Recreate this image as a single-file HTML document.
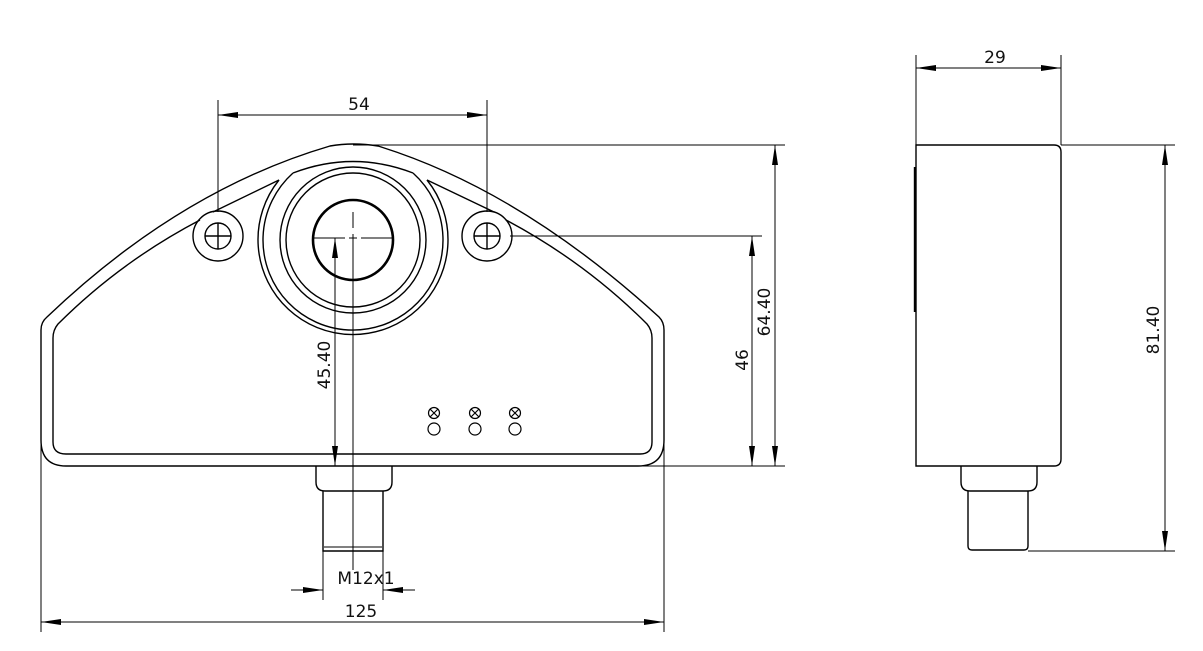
<!DOCTYPE html>
<html><head><meta charset="utf-8"><style>
html,body{margin:0;padding:0;background:#fff;}
svg{display:block;}
text{font-family:"DejaVu Sans","Liberation Sans",sans-serif;font-size:17px;fill:#111;}
</style></head><body>
<svg width="1203" height="651" viewBox="0 0 1203 651" xmlns="http://www.w3.org/2000/svg">
<defs>
<marker id="a" viewBox="0 0 20 8" refX="20" refY="4" markerWidth="20" markerHeight="8" markerUnits="userSpaceOnUse" orient="auto-start-reverse"><path d="M0,1 L20,4 L0,7 z" fill="#000"/></marker>
</defs>
<g fill="none" stroke="#000" stroke-width="1.4">
<path d="M41,440 L41,330 Q41,322 47,317 Q180,190 330,146 Q353,142 378,146 Q520,190 659,317 Q664,322 664,330 L664,440 Q664,466 638,466 L66,466 Q41,466 41,440 Z"/>
<path d="M200,220 Q120,262 58,324 Q53,330 53,338 L53,442 Q53,454 66,454 L640,454 Q652,454 652,442 L652,338 Q652,330 647,324 Q585,262 506,220"/>
<path d="M213,212 L279,180"/>
<path d="M494,212 L427,180"/>
<path d="M293,173 Q353,150 413,173"/>
<path d="M279,180 A95,95 0 1 0 427,180"/>
<path d="M293,173 A90,90 0 1 0 413,173"/>
<circle cx="353" cy="240" r="73"/>
<circle cx="353" cy="240" r="67"/>
<circle cx="353" cy="240" r="40" stroke-width="2.6"/>
<circle cx="218" cy="236" r="25"/>
<circle cx="218" cy="236" r="13"/>
<path d="M205,236H231M218,223V249"/>
<circle cx="487" cy="236" r="25"/>
<circle cx="487" cy="236" r="13"/>
<path d="M474,236H500M487,223V249"/>
<g stroke-width="1.2">
<circle cx="434" cy="413" r="5.5"/><path d="M430,409L438,417M438,409L430,417"/><circle cx="434" cy="429" r="6"/>
<circle cx="475" cy="413" r="5.5"/><path d="M471,409L479,417M479,409L471,417"/><circle cx="475" cy="429" r="6"/>
<circle cx="515" cy="413" r="5.5"/><path d="M511,409L519,417M519,409L511,417"/><circle cx="515" cy="429" r="6"/>
</g>
<path d="M316,466 L316,482 Q316,491 325,491 L383,491 Q392,491 392,482 L392,466"/>
<path d="M323,491 L323,551 L383,551 L383,491"/>
<path d="M324,547 L382,547" stroke-width="1"/>
<path d="M353,212 V228 M353,234 V570" stroke-width="1"/>
<path d="M313,238 H345 M349,238 H357 M361,238 H392" stroke-width="1"/>
<g stroke-width="1">
<path d="M218,100 V212 M487,100 V212"/>
<path d="M218,115 H487" marker-start="url(#a)" marker-end="url(#a)"/>
<path d="M353,145 H785 M510,236 H762 M640,466 H785"/>
<path d="M752,236 V466" marker-start="url(#a)" marker-end="url(#a)"/>
<path d="M775,145 V466" marker-start="url(#a)" marker-end="url(#a)"/>
<path d="M335,238 V466" marker-start="url(#a)" marker-end="url(#a)"/>
<path d="M323,548 V600 M383,548 V600"/>
<path d="M291,590 H323" marker-end="url(#a)"/>
<path d="M415,590 H383" marker-end="url(#a)"/>
<path d="M41,440 V632 M664,440 V632"/>
<path d="M41,622 H664" marker-start="url(#a)" marker-end="url(#a)"/>
</g>
<path d="M916,145 L1054,145 Q1061,145 1061,152 L1061,459 Q1061,466 1054,466 L916,466 Z"/>
<path d="M915,167 V312" stroke-width="2.4"/>
<path d="M961,466 L961,482 Q961,491 970,491 L1028,491 Q1037,491 1037,482 L1037,466"/>
<path d="M968,491 L968,546 Q968,550 972,550 L1024,550 Q1028,550 1028,546 L1028,491"/>
<g stroke-width="1">
<path d="M916,55 V145 M1061,55 V145"/>
<path d="M916,68 H1061" marker-start="url(#a)" marker-end="url(#a)"/>
<path d="M1061,145 H1175 M1028,551 H1175"/>
<path d="M1165,145 V551" marker-start="url(#a)" marker-end="url(#a)"/>
</g>
</g>
<text x="359" y="110" text-anchor="middle">54</text>
<text x="995" y="63" text-anchor="middle">29</text>
<text x="366" y="584" text-anchor="middle">M12x1</text>
<text x="361" y="617" text-anchor="middle">125</text>
<text transform="translate(330,365) rotate(-90)" text-anchor="middle">45.40</text>
<text transform="translate(748,360) rotate(-90)" text-anchor="middle">46</text>
<text transform="translate(770,312) rotate(-90)" text-anchor="middle">64.40</text>
<text transform="translate(1159,330) rotate(-90)" text-anchor="middle">81.40</text>
</svg>
</body></html>
